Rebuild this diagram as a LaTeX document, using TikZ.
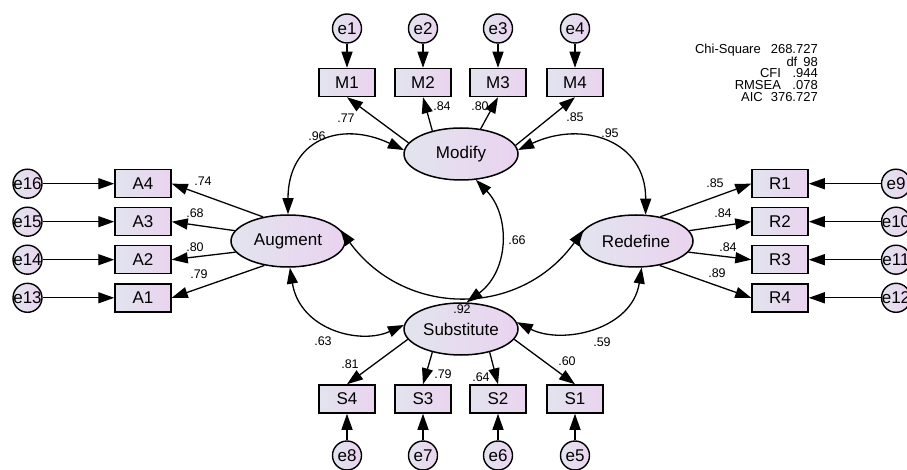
\documentclass[tikz,border=0pt]{standalone}
\usepackage{fontspec}
\setmainfont{Liberation Sans}
\usetikzlibrary{arrows.meta,shapes.geometric}

\definecolor{shadeL}{HTML}{E2E4EE}
\definecolor{shadeR}{HTML}{EAD3EF}

\newcommand\etxt[1]{\makebox[0pt]{#1}}

\tikzset{
  latent/.style={ellipse, draw, line width=1.5pt, minimum width=114pt, minimum height=52pt,
    inner sep=0pt, left color=shadeL, right color=shadeR, font=\fontsize{17}{19}\selectfont},
  observed/.style={rectangle, draw, line width=1.5pt, minimum width=56pt, minimum height=28pt,
    inner sep=0pt, left color=shadeL, right color=shadeR, font=\fontsize{17}{19}\selectfont},
  errvar/.style={circle, draw, line width=1.4pt, minimum size=29pt, inner sep=0pt,
    left color=shadeL, right color=shadeR, font=\fontsize{17}{19}\selectfont},
  regpath/.style={line width=1.3pt, -{Triangle[length=16pt,width=11pt]}},
  covpath/.style={line width=1.3pt, {Triangle[length=16pt,width=11pt]}-{Triangle[length=16pt,width=11pt]}},
  coef/.style={inner sep=0pt, font=\fontsize{12.5}{14}\selectfont},
}

\begin{document}
\begin{tikzpicture}[x=1pt,y=-1pt]
\fill[white] (0,0) rectangle (907,470);
\useasboundingbox (0,0) rectangle (907,470);

% latent factors
\node[latent] (Modify)     at (461,154) {Modify};
\node[latent] (Augment)    at (288,241) {Augment};
\node[latent] (Redefine)   at (636,241) {Redefine};
\node[latent] (Substitute) at (461,329) {Substitute};

% Modify indicators
\node[observed] (M1) at (347,82.5) {M1};
\node[observed] (M2) at (423,82.5) {M2};
\node[observed] (M3) at (498,82.5) {M3};
\node[observed] (M4) at (575,82.5) {M4};
\node[errvar] (e1) at (347,28.5) {\etxt{e1}};
\node[errvar] (e2) at (423,28.5) {\etxt{e2}};
\node[errvar] (e3) at (498,28.5) {\etxt{e3}};
\node[errvar] (e4) at (575,28.5) {\etxt{e4}};

% Substitute indicators
\node[observed] (S4) at (347,399) {S4};
\node[observed] (S3) at (423,399) {S3};
\node[observed] (S2) at (498,399) {S2};
\node[observed] (S1) at (575,399) {S1};
\node[errvar] (e8) at (347,455.5) {\etxt{e8}};
\node[errvar] (e7) at (423,455.5) {\etxt{e7}};
\node[errvar] (e6) at (498,455.5) {\etxt{e6}};
\node[errvar] (e5) at (575,455.5) {\etxt{e5}};

% Augment indicators
\node[observed] (A4) at (143,183.7) {A4};
\node[observed] (A3) at (143,221.7) {A3};
\node[observed] (A2) at (143,259.7) {A2};
\node[observed] (A1) at (143,297.8) {A1};
\node[errvar] (e16) at (27.5,183.7) {\etxt{e16}};
\node[errvar] (e15) at (27.5,221.7) {\etxt{e15}};
\node[errvar] (e14) at (27.5,259.7) {\etxt{e14}};
\node[errvar] (e13) at (27.5,297.8) {\etxt{e13}};

% Redefine indicators
\node[observed] (R1) at (780,183.7) {R1};
\node[observed] (R2) at (780,221.7) {R2};
\node[observed] (R3) at (780,259.7) {R3};
\node[observed] (R4) at (780,297.8) {R4};
\node[errvar] (e9)  at (896,183.7) {\etxt{e9}};
\node[errvar] (e10) at (896,221.7) {\etxt{e10}};
\node[errvar] (e11) at (896,259.7) {\etxt{e11}};
\node[errvar] (e12) at (896,297.8) {\etxt{e12}};

% error terms
\foreach \e/\v in {e1/M1,e2/M2,e3/M3,e4/M4,e5/S1,e6/S2,e7/S3,e8/S4,
                   e9/R1,e10/R2,e11/R3,e12/R4,e13/A1,e14/A2,e15/A3,e16/A4}
  \draw[regpath] (\e) -- (\v);

% loadings
\draw[regpath] (Modify.168) -- (M1.south);
\draw[regpath] (Modify.141) -- (M2.south);
\draw[regpath] (Modify.52)  -- (M3.south);
\draw[regpath] (Modify.9)   -- (M4.south);

\draw[regpath] (Substitute.191) -- (S4.north);
\draw[regpath] (Substitute.219) -- (S3.north);
\draw[regpath] (Substitute.321) -- (S2.north);
\draw[regpath] (Substitute.349) -- (S1.north);

\draw[regpath] (Augment.136) -- (A4.east);
\draw[regpath] (Augment.169) -- (A3.east);
\draw[regpath] (Augment.192) -- (A2.east);
\draw[regpath] (Augment.226) -- (A1.east);

\draw[regpath] (Redefine.45)  -- (R1.west);
\draw[regpath] (Redefine.11)  -- (R2.west);
\draw[regpath] (Redefine.348) -- (R3.west);
\draw[regpath] (Redefine.314) -- (R4.west);

% factor covariances
\draw[covpath] (Augment.north) .. controls (288,140) and (340,120) .. (Modify.176);
\draw[covpath] (Modify.4) .. controls (582,120) and (646,140) .. (Redefine.70);
\draw[covpath] (Augment.274) .. controls (300,330) and (360,345) .. (Substitute.176);
\draw[covpath] (Substitute.7) .. controls (562,345) and (632,330) .. (Redefine.282);
\draw[covpath] (Modify.300) .. controls (510,215) and (510,270) .. (Substitute.78);
\draw[covpath] (Augment.12) .. controls (405,318) and (520,318) .. (Redefine.168);

% estimates
\node[coef] (cM1) at (346,118) {.77};
\node[coef] (cM2) at (442,106) {.84};
\node[coef] (cM3) at (480,106) {.80};
\node[coef] (cM4) at (575,117) {.85};
\node[coef] (cAM) at (317,136) {.96};
\node[coef] (cMR) at (610,133) {.95};
\node[coef] (cA4) at (203,181) {.74};
\node[coef] (cA3) at (195,213) {.68};
\node[coef] (cA2) at (195,247) {.80};
\node[coef] (cA1) at (199,274) {.79};
\node[coef] (cR1) at (715,183) {.85};
\node[coef] (cR2) at (723,213) {.84};
\node[coef] (cR3) at (728,247) {.84};
\node[coef] (cR4) at (717,273) {.89};
\node[coef] (cS4) at (350,364) {.81};
\node[coef] (cS3) at (443,374) {.79};
\node[coef] (cS2) at (481,377) {.64};
\node[coef] (cS1) at (567,361) {.60};
\node[coef] (cAS) at (323,341) {.63};
\node[coef] (cSR) at (602,342) {.59};
\node[coef] (cMS) at (517,240) {.66};
\node[coef] (cAR) at (462,309) {.92};

% fit indices
\node[inner sep=0pt, anchor=north east, align=right,
      font=\fontsize{13}{11.7}\selectfont] (fit) at (818,43.5)
  {Chi-Square\hspace{10pt}268.727\\
   df\hspace{6pt}98\\
   CFI\hspace{11.5pt}.944\\
   RMSEA\hspace{11.5pt}.078\\
   AIC\hspace{8pt}376.727};
\end{tikzpicture}
\end{document}
